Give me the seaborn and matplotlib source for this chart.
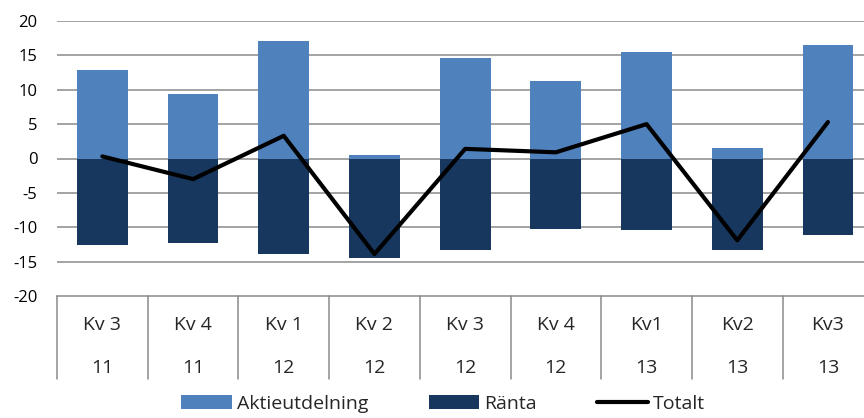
import matplotlib
matplotlib.use("Agg")
import matplotlib.pyplot as plt
import matplotlib.transforms as mtransforms
from matplotlib.patches import Patch
from matplotlib.lines import Line2D
import seaborn as sns
import pandas as pd

quarters = ["Kv 3", "Kv 4", "Kv 1", "Kv 2", "Kv 3", "Kv 4", "Kv1", "Kv2", "Kv3"]
years = ["11", "11", "12", "12", "12", "12", "13", "13", "13"]
aktieutdelning = [12.9, 9.4, 17.1, 0.5, 14.6, 11.3, 15.5, 1.5, 16.5]
ranta = [-12.6, -12.3, -13.9, -14.5, -13.3, -10.3, -10.4, -13.3, -11.1]
totalt = [0.3, -3.0, 3.3, -13.9, 1.4, 0.9, 5.0, -11.9, 5.3]
yticks = [-20, -15, -10, -5, 0, 5, 10, 15, 20]

sns.set_theme(style="white")
plt.rcParams["font.family"] = ["Open Sans", "DejaVu Sans"]

labels = [f"{q}\n{y}" for q, y in zip(quarters, years)]
df = pd.DataFrame({"kat": labels, "Aktieutdelning": aktieutdelning,
                   "Ränta": ranta, "Totalt": totalt})

c_light = "#4F81BD"
c_dark = "#17375E"
grid_c = "#8A8A8A"

fig = plt.figure(figsize=(8.64, 4.18), dpi=100)
ax = fig.add_axes([57 / 864, 1 - 296 / 418, (9 * 90.7) / 864, (296 - 21) / 418])

for yv in yticks[1:]:
    ax.axhline(yv, color=grid_c, lw=1.1, zorder=0)

sns.barplot(data=df, x="kat", y="Aktieutdelning", color=c_light, width=0.56,
            saturation=1, linewidth=0, ax=ax, zorder=2)
sns.barplot(data=df, x="kat", y="Ränta", color=c_dark, width=0.56,
            saturation=1, linewidth=0, ax=ax, zorder=2)
sns.lineplot(data=df, x="kat", y="Totalt", color="black", lw=3, ax=ax,
             zorder=3, sort=False)

ax.set_xlim(-0.5, 8.5)
ax.set_ylim(-20, 20)
ax.set_yticks(yticks)
ax.set_yticklabels([str(v) for v in yticks], fontsize=12, color="black")
ax.tick_params(axis="y", length=0, pad=14)
ax.set_xticks([])
ax.set_xlabel("")
ax.set_ylabel("")
for s in ["top", "right", "left"]:
    ax.spines[s].set_visible(False)
ax.spines["bottom"].set_color(grid_c)
ax.spines["bottom"].set_linewidth(1.1)

# table-like category axis
trans = mtransforms.blended_transform_factory(ax.transData, fig.transFigure)
y_top = 1 - 296 / 418
y_bot = 1 - 379 / 418
for i in range(len(quarters) + 1):
    ax.plot([i - 0.5, i - 0.5], [y_top, y_bot], color=grid_c, lw=1.1,
            transform=trans, clip_on=False)
for i, (q, y) in enumerate(zip(quarters, years)):
    ax.text(i, 1 - 330 / 418, q, transform=trans, ha="center", va="baseline",
            fontsize=14)
    ax.text(i, 1 - 373 / 418, y, transform=trans, ha="center", va="baseline",
            fontsize=14)

handles = [Patch(facecolor=c_light, edgecolor="none", label="Aktieutdelning"),
           Patch(facecolor=c_dark, edgecolor="none", label="Ränta"),
           Line2D([0], [0], color="black", lw=3, label="Totalt")]
fig.legend(handles=handles, loc="center", bbox_to_anchor=(0.513, 1 - 404 / 418),
           ncol=3, frameon=False, fontsize=14, handlelength=2.6,
           handleheight=0.7, columnspacing=3.1, handletextpad=0.26,
           borderpad=0, borderaxespad=0)

fig.savefig("out.png", dpi=100)
